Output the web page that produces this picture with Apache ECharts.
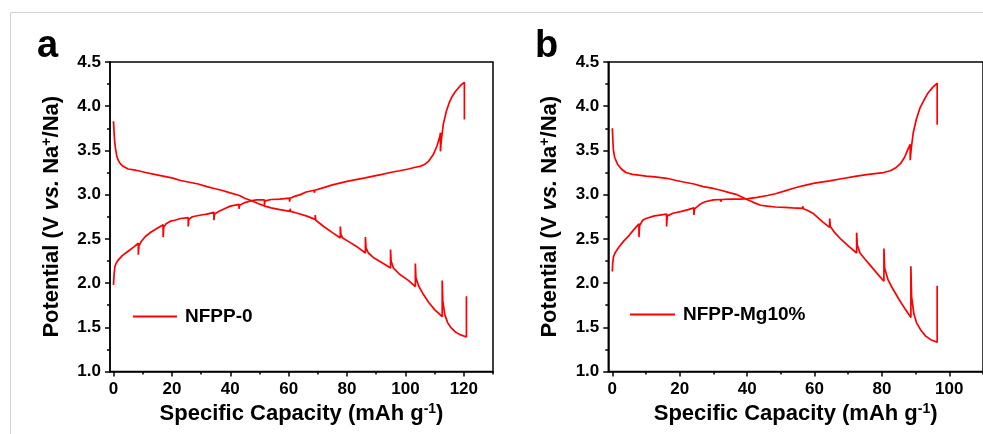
<!DOCTYPE html>
<html><head><meta charset="utf-8">
<script src="https://cdn.jsdelivr.net/npm/echarts@6/dist/echarts.min.js"></script>
<style>html,body{margin:0;padding:0;background:#fff}#c{width:983px;height:434px}</style>
</head><body><div id="c"></div>
<script>
// ---- data ----
const seriesNames = ['NFPP-0', 'NFPP-Mg10%'];
const panelLetters = ['a', 'b'];
const xTicksA = [0, 20, 40, 60, 80, 100, 120];
const xMinorA = [10, 30, 50, 70, 90, 110, 130];
const xTicksB = [0, 20, 40, 60, 80, 100];
const xMinorB = [10, 30, 50, 70, 90, 110];
const xName = 'Specific Capacity (mAh g{sup|-1})';
const yName = 'Potential (V {i|vs.} Na{sup|+}/Na)';

const chargeA = [[0.0,1.98],[0.2,2.10],[0.5,2.19],[1.0,2.23],[1.6,2.26],[3,2.31],[5,2.36],[7,2.41],[8.5,2.45],[8.5,2.32],[8.7,2.42],[9.5,2.47],[11,2.53],[13,2.58],[15,2.62],[17,2.66],[17,2.52],[17.2,2.63],[18,2.67],[19.5,2.70],[21,2.71],[23,2.73],[25.6,2.74],[25.6,2.64],[25.8,2.72],[27,2.75],[30,2.77],[32,2.78],[34.4,2.80],[34.4,2.71],[34.6,2.78],[36,2.81],[38,2.84],[40,2.87],[43,2.89],[43,2.84],[43.2,2.88],[45,2.91],[47,2.93],[49,2.94],[51.7,2.94],[51.7,2.88],[51.9,2.93],[54,2.945],[57,2.95],[60.3,2.96],[60.3,2.92],[60.5,2.96],[62,2.98],[64,3.00],[66,3.03],[68.8,3.05],[68.8,3.02],[69,3.05],[72,3.08],[75,3.11],[77.5,3.13],[77.5,3.11],[77.7,3.13],[80,3.15],[83,3.17],[86.2,3.19],[86.2,3.17],[86.4,3.19],[89,3.21],[92,3.23],[94.8,3.25],[94.8,3.23],[95,3.25],[98,3.27],[101,3.29],[103.4,3.31],[103.4,3.30],[103.6,3.31],[105,3.32],[106.5,3.34],[108,3.38],[109.5,3.45],[110.8,3.55],[111.8,3.66],[112,3.70],[112,3.49],[112.3,3.62],[113,3.80],[114,3.94],[115,4.04],[116,4.11],[117,4.16],[118,4.20],[119,4.24],[120.2,4.27],[120.2,3.85]];
const dischargeA = [[0,3.83],[0.2,3.70],[0.4,3.60],[0.7,3.52],[1.1,3.44],[1.6,3.39],[2.3,3.35],[3.3,3.32],[5,3.29],[7,3.28],[8.5,3.27],[8.5,3.285],[8.7,3.27],[11,3.25],[14,3.23],[17,3.21],[17,3.225],[17.2,3.21],[20,3.19],[23,3.16],[26,3.14],[26,3.155],[26.2,3.14],[29,3.12],[32,3.09],[34.5,3.07],[34.5,3.085],[34.7,3.07],[37,3.05],[40,3.02],[43.1,2.99],[43.1,3.01],[43.3,2.99],[45,2.96],[47.3,2.93],[49.5,2.90],[51.9,2.87],[51.9,2.89],[52.1,2.87],[54,2.85],[57,2.83],[60.5,2.81],[60.5,2.84],[60.7,2.81],[63,2.79],[66,2.76],[69.1,2.72],[69.1,2.77],[69.3,2.71],[72,2.64],[75,2.57],[77.7,2.51],[77.7,2.64],[77.9,2.55],[78.5,2.51],[80,2.48],[83,2.42],[86.3,2.34],[86.3,2.52],[86.5,2.40],[87.3,2.34],[89,2.29],[92,2.23],[94.9,2.17],[94.9,2.38],[95.1,2.25],[95.9,2.17],[98,2.10],[101,2.03],[103.4,1.96],[103.4,2.22],[103.6,2.06],[104.5,1.97],[106,1.88],[108,1.78],[110,1.70],[112.6,1.62],[112.6,2.03],[112.8,1.80],[113.5,1.64],[114.5,1.55],[115.5,1.50],[117,1.45],[118.5,1.42],[120.9,1.39],[120.9,1.85]];
const chargeB = [[0,2.13],[0.1,2.22],[0.3,2.29],[0.8,2.34],[2,2.41],[3.5,2.48],[5,2.54],[6.5,2.61],[7.9,2.67],[7.9,2.52],[8.1,2.65],[9,2.71],[10,2.73],[12.5,2.76],[16.1,2.78],[16.1,2.64],[16.3,2.76],[18,2.79],[20.5,2.81],[22.5,2.83],[24.2,2.85],[24.2,2.77],[24.4,2.84],[26,2.89],[27.5,2.92],[30,2.94],[32.2,2.945],[32.2,2.92],[32.4,2.945],[35,2.95],[38,2.95],[40.3,2.955],[40.3,2.935],[40.5,2.955],[43,2.97],[46,2.99],[48.4,3.01],[48.4,2.99],[48.6,3.01],[51,3.04],[53.5,3.07],[56.5,3.10],[56.5,3.08],[56.7,3.10],[60,3.13],[64.5,3.155],[64.5,3.145],[64.7,3.155],[68,3.18],[72.5,3.21],[72.5,3.20],[72.7,3.21],[76,3.23],[80.5,3.25],[80.5,3.24],[80.7,3.25],[82.5,3.27],[84,3.30],[85.5,3.35],[86.7,3.42],[87.8,3.52],[88.4,3.57],[88.4,3.39],[88.7,3.52],[89.3,3.70],[90.2,3.85],[91.3,3.98],[92.5,4.07],[93.7,4.15],[95,4.21],[96.4,4.26],[96.4,3.79]];
const dischargeB = [[0,3.75],[0.15,3.62],[0.3,3.51],[0.7,3.42],[1.6,3.34],[2.7,3.29],[4,3.25],[6,3.23],[7.9,3.22],[7.9,3.235],[8.1,3.22],[10,3.21],[12.7,3.20],[16.1,3.185],[16.1,3.20],[16.3,3.185],[19,3.16],[21.5,3.14],[24.2,3.12],[24.2,3.13],[24.4,3.12],[27,3.09],[30,3.07],[32.2,3.05],[32.2,3.06],[32.4,3.05],[35,3.02],[37,3.0],[40.3,2.94],[40.3,2.96],[40.5,2.94],[42,2.91],[44,2.88],[46,2.87],[48.4,2.86],[48.4,2.88],[48.6,2.86],[51,2.855],[53.5,2.85],[56.5,2.845],[56.5,2.87],[56.7,2.84],[58,2.82],[59.5,2.79],[61,2.74],[62.5,2.69],[64.5,2.63],[64.5,2.73],[64.7,2.64],[66,2.57],[68,2.49],[70,2.42],[72.5,2.34],[72.5,2.57],[72.7,2.43],[73.5,2.34],[75,2.27],[77,2.18],[79,2.09],[80.6,2.02],[80.6,2.39],[80.8,2.17],[81.8,2.04],[83,1.95],[85,1.82],[87,1.70],[88.6,1.61],[88.6,2.19],[88.8,1.85],[89.5,1.65],[90.3,1.55],[91.5,1.47],[93,1.40],[94.5,1.36],[96.4,1.33],[96.4,1.97]];

// ---- chart ----
const FONT = '"Liberation Sans", Arial, sans-serif';
const RED = '#ff0000';
const black = '#000';
const richStyles = {
  sup: {fontSize: 14, fontWeight: 'bold', fontFamily: FONT, color: black, verticalAlign: 'bottom', padding: [0, 0, 9, 0]},
  i: {fontSize: 22, fontWeight: 'bold', fontStyle: 'italic', fontFamily: FONT, color: black}
};
const nameStyle = {fontSize: 22, fontWeight: 'bold', fontFamily: FONT, color: black, rich: richStyles};

function mainX(grid, max, ticks) {
  return {
    gridIndex: grid, type: 'value', min: -1.2, max: max, position: 'bottom',
    axisLine: {show: true, onZero: false, lineStyle: {color: black, width: 1.5}},
    axisTick: {show: true, customValues: ticks, length: 5, lineStyle: {color: black, width: 1.5}},
    axisLabel: {show: true, customValues: ticks, margin: 9, fontSize: 17, fontWeight: 'bold', fontFamily: FONT, color: black},
    splitLine: {show: false},
    name: xName, nameLocation: 'middle', nameGap: 30, nameTextStyle: nameStyle
  };
}
function minorX(grid, max, ticks) {
  return {
    gridIndex: grid, type: 'value', min: -1.2, max: max, position: 'bottom',
    axisLine: {show: false, onZero: false},
    axisTick: {show: true, customValues: ticks, length: 3, lineStyle: {color: black, width: 1.5}},
    axisLabel: {show: false}, splitLine: {show: false}
  };
}
function yAx(grid) {
  return {
    gridIndex: grid, type: 'value', min: 1, max: 4.5, interval: 0.5,
    axisLine: {show: true, onZero: false, lineStyle: {color: black, width: 1.5}},
    axisTick: {show: true, length: 5, lineStyle: {color: black, width: 1.5}},
    minorTick: {show: true, splitNumber: 2, length: 3, lineStyle: {color: black, width: 1.5}},
    axisLabel: {margin: 9, fontSize: 17, fontWeight: 'bold', fontFamily: FONT, color: black, formatter: v => v.toFixed(1)},
    splitLine: {show: false}, minorSplitLine: {show: false},
    name: yName, nameLocation: 'middle', nameGap: 47, nameTextStyle: nameStyle
  };
}
function lineSeries(name, data, xi, yi) {
  return {
    name: name, type: 'line', xAxisIndex: xi, yAxisIndex: yi, data: data,
    symbol: 'none', showSymbol: false, smooth: false,
    lineStyle: {color: RED, width: 1.7}, itemStyle: {color: RED}
  };
}
const legendText = {fontSize: 19, fontWeight: 'bold', fontFamily: FONT, color: black, padding: [0, 0, 0, 3]};

const chart = echarts.init(document.getElementById('c'), null, {renderer: 'canvas'});
chart.setOption({
  animation: false,
  backgroundColor: '#fff',
  grid: [
    {left: 110, top: 62, width: 383, height: 309.5, show: true, borderColor: black, borderWidth: 1.5, backgroundColor: 'transparent', containLabel: false},
    {left: 608.3, top: 62, width: 383, height: 309.5, show: true, borderColor: black, borderWidth: 1.5, backgroundColor: 'transparent', containLabel: false}
  ],
  xAxis: [mainX(0, 130, xTicksA), minorX(0, 130, xMinorA), mainX(1, 110, xTicksB), minorX(1, 110, xMinorB)],
  yAxis: [yAx(0), yAx(1)],
  legend: [
    {data: [seriesNames[0]], left: 133, top: 307, padding: 0, icon: 'rect', itemWidth: 44, itemHeight: 2, itemGap: 0, textStyle: legendText, selectedMode: false},
    {data: [seriesNames[1]], left: 630, top: 305, padding: 0, icon: 'rect', itemWidth: 45, itemHeight: 2, itemGap: 0, textStyle: legendText, selectedMode: false}
  ],
  series: [
    lineSeries(seriesNames[0], chargeA, 0, 0),
    lineSeries(seriesNames[0], dischargeA, 0, 0),
    lineSeries(seriesNames[1], chargeB, 2, 1),
    lineSeries(seriesNames[1], dischargeB, 2, 1)
  ],
  graphic: [
    {type: 'rect', silent: true, z: -10, shape: {x: 10.5, y: 12.5, width: 1000, height: 500}, style: {fill: 'none', stroke: '#d2d2d2', lineWidth: 1}},
    {type: 'text', left: 37, top: 28, style: {text: panelLetters[0], font: 'bold 38px ' + FONT, fill: black}},
    {type: 'text', left: 535, top: 28, style: {text: panelLetters[1], font: 'bold 38px ' + FONT, fill: black}}
  ]
});
</script></body></html>
